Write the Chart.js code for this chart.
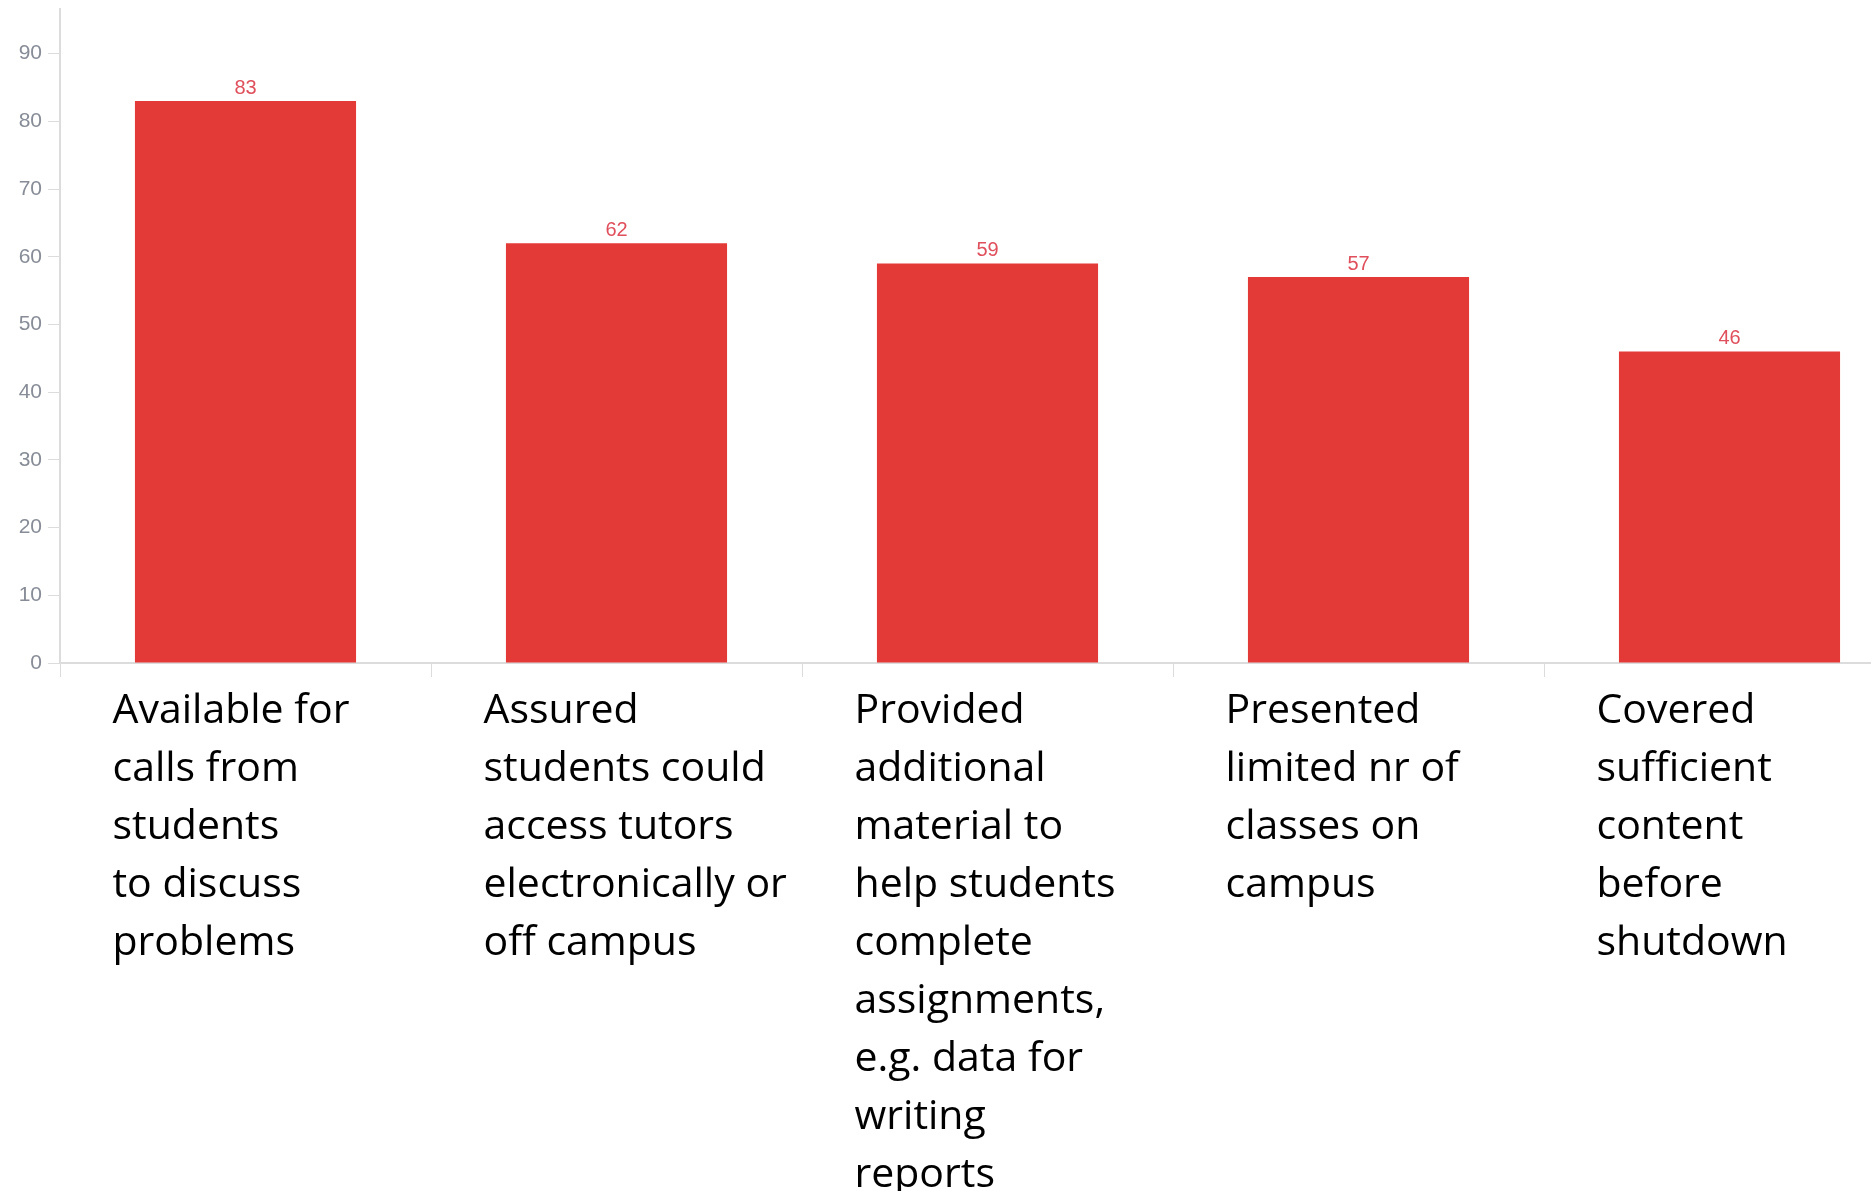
<!DOCTYPE html>
<html>
<head>
<meta charset="utf-8">
<script src="https://cdn.jsdelivr.net/npm/chart.js@4/dist/chart.umd.min.js"></script>
<style>
  html, body { margin: 0; padding: 0; background: #fff; overflow: hidden; }
  #wrap { width: 1915px; height: 1191px; position: relative; }
</style>
</head>
<body>
<div id="wrap"><canvas id="myChart"></canvas></div>
<script>
// categories (each label split into its lines) and percentages
const categories = [
  ["Available for", "calls from", "students", "to discuss", "problems"],
  ["Assured", "students could", "access tutors", "electronically or", "off campus"],
  ["Provided", "additional", "material to", "help students", "complete", "assignments,", "e.g. data for", "writing", "reports"],
  ["Presented", "limited nr of", "classes on", "campus"],
  ["Covered", "sufficient", "content", "before", "shutdown"],
];
const values = [83, 62, 59, 57, 46];
const yTicks = [0, 10, 20, 30, 40, 50, 60, 70, 80, 90];

const barColor = "#e43a37";
const valueColor = "#e04f5c";
const axisColor = "#dcdcdc";

// value printed above every bar
const barValues = {
  id: "barValues",
  afterDatasetsDraw(chart) {
    const ctx = chart.ctx;
    const meta = chart.getDatasetMeta(0);
    ctx.save();
    ctx.font = "20px 'Liberation Sans', Arial, sans-serif";
    ctx.fillStyle = valueColor;
    ctx.textAlign = "center";
    ctx.textBaseline = "bottom";
    meta.data.forEach((bar, i) => {
      ctx.fillText(String(values[i]), bar.x, bar.y - 3);
    });
    ctx.restore();
  },
};

const data = {
  labels: categories,
  datasets: [
    {
      data: values,
      backgroundColor: barColor,
      borderWidth: 0,
      categoryPercentage: 1,
      barPercentage: 0.596,
    },
  ],
};

const config = {
  type: "bar",
  data,
  plugins: [barValues],
  options: {
    responsive: true,
    maintainAspectRatio: false,
    animation: false,
    layout: { padding: { top: 9, left: 0, right: 0, bottom: 0 } },
    plugins: {
      legend: { display: false },
      tooltip: { enabled: false },
    },
    scales: {
      x: {
        offset: true,
        border: { color: axisColor, width: 2 },
        grid: {
          offset: true,
          drawOnChartArea: false,
          drawTicks: true,
          tickLength: 14,
          color: axisColor,
        },
        ticks: {
          autoSkip: false,
          maxRotation: 0,
          minRotation: 0,
          align: "start",
          labelOffset: -133,
          padding: 5,
          color: "#000",
          font: { family: "'Open Sans', 'Noto Sans', sans-serif", size: 41, lineHeight: "58px" },
        },
        // keep the plot full width and leave the label block its own height
        afterFit(scale) {
          scale.paddingLeft = 0;
          scale.paddingRight = 0;
          scale.height = 528;
        },
      },
      y: {
        min: 0,
        max: 96.6,
        border: { color: axisColor, width: 2 },
        grid: {
          drawOnChartArea: false,
          drawTicks: true,
          tickLength: 12,
          color: axisColor,
        },
        afterBuildTicks(scale) {
          scale.ticks = yTicks.map((v) => ({ value: v }));
        },
        ticks: {
          padding: 6,
          color: "#878c96",
          font: { family: "'Liberation Sans', Arial, sans-serif", size: 21 },
        },
        afterFit(scale) {
          scale.width = 60;
          scale.paddingTop = 0;
          scale.paddingBottom = 0;
        },
      },
    },
  },
};

const myChart = new Chart(document.getElementById("myChart"), config);
</script>
</body>
</html>
